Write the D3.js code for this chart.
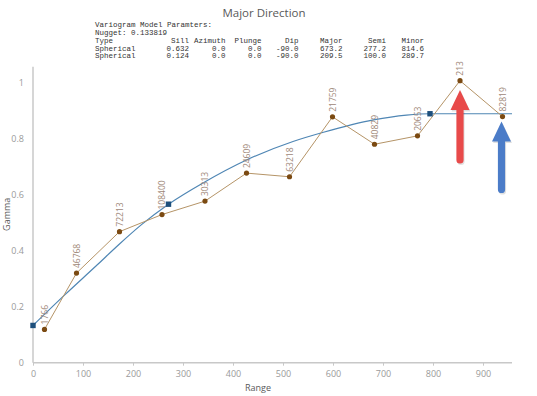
<!DOCTYPE html>
<html><head><meta charset="utf-8">
<script src="https://cdnjs.cloudflare.com/ajax/libs/d3/7.8.5/d3.min.js"></script>
<style>body{margin:0;background:#fff;}svg{display:block;}</style>
</head><body><svg id="c" width="537" height="396"></svg>
<script>
// Experimental variogram points
const lagRange = [23, 87, 173, 258, 344, 427, 513, 599, 683, 769, 854, 939];
const lagGamma = [0.119, 0.320, 0.468, 0.529, 0.577, 0.677, 0.664, 0.878, 0.780, 0.810, 1.007, 0.879];
const lagPairs = ["1766", "46768", "72213", "108400", "30313", "24609", "63218", "21759", "40829", "20653", "213", "82819"];
// Model curve
const modelRange = [0, 64, 127, 173, 217, 271, 340, 427, 520, 581, 681, 747, 794, 958];
const modelGamma = [0.133, 0.243, 0.347, 0.424, 0.493, 0.566, 0.642, 0.724, 0.790, 0.823, 0.867, 0.884, 0.889, 0.889];
const modelMarkRange = [0, 271, 794];
const modelMarkGamma = [0.133, 0.566, 0.889];
const xTicks = [0, 100, 200, 300, 400, 500, 600, 700, 800, 900];
const yTicks = [0, 0.2, 0.4, 0.6, 0.8, 1];
const title = "Major Direction";
const headerLines = ["Variogram Model Paramters:", "Nugget: 0.133819"];
const tableCols = ["Type", "Sill", "Azimuth", "Plunge", "Dip", "Major", "Semi", "Minor"];
const tableRows = [
  ["Spherical", "0.632", "0.0", "0.0", "-90.0", "673.2", "277.2", "814.6"],
  ["Spherical", "0.124", "0.0", "0.0", "-90.0", "209.5", "100.0", "289.7"]
];

const svg = d3.select("#c");
const x = d3.scaleLinear().domain([0, 958]).range([33, 512]);
const y = d3.scaleLinear().domain([0, 1.057]).range([362.7, 66.7]);

// title
svg.append("text").attr("x", 264).attr("y", 17).attr("text-anchor", "middle")
  .attr("font-family", "Open Sans, sans-serif").attr("font-size", 11.5).attr("fill", "#595959").text(title);

// header text block
const mono = "Liberation Mono, monospace";
const rowY = [27, 35, 43, 50.7, 58.4];
headerLines.forEach((t, i) => {
  svg.append("text").attr("x", 95).attr("y", rowY[i]).attr("font-family", mono)
    .attr("font-size", 7.5).attr("fill", "#333").text(t);
});
const colEnd = [null, 189, 225.5, 261.5, 298.5, 342.5, 386, 424];
[tableCols].concat(tableRows).forEach((row, ri) => {
  row.forEach((t, ci) => {
    const el = svg.append("text").attr("y", rowY[ri + 2]).attr("font-family", mono)
      .attr("font-size", 7.5).attr("fill", "#333").text(t);
    if (ci === 0) el.attr("x", 95);
    else el.attr("x", colEnd[ci]).attr("text-anchor", "end");
  });
});

// axes
const gx = svg.append("g").attr("transform", `translate(0,${y(0)})`)
  .call(d3.axisBottom(x).tickValues(xTicks).tickSize(3).tickSizeOuter(0).tickFormat(d3.format("d")));
gx.select(".domain").attr("stroke", "#c8c8c8").attr("stroke-width", 1.5).attr("d", `M${x(0)},0H${x(958)}`);
gx.selectAll(".tick line").attr("stroke", "#c8c8c8");
gx.selectAll(".tick text").attr("fill", "#9a9a9a").attr("font-size", 9).attr("font-family", "Open Sans, sans-serif").attr("dy", "0.9em");

const gy = svg.append("g").attr("transform", `translate(${x(0)},0)`)
  .call(d3.axisLeft(y).tickValues(yTicks).tickSize(0).tickPadding(9).tickFormat(d => d3.format("")(d)));
gy.select(".domain").attr("stroke", "#c8c8c8").attr("stroke-width", 1.5).attr("d", `M0,${y(0)}V${y(1.057)}`);
gy.selectAll(".tick text").attr("fill", "#9a9a9a").attr("font-size", 9).attr("font-family", "Open Sans, sans-serif");

svg.append("text").attr("x", x(450)).attr("y", 391).attr("text-anchor", "middle")
  .attr("font-family", "Open Sans, sans-serif").attr("font-size", 9).attr("fill", "#595959").text("Range");
svg.append("text").attr("transform", `translate(10,${y(0.53)}) rotate(-90)`).attr("text-anchor", "middle")
  .attr("font-family", "Open Sans, sans-serif").attr("font-size", 9).attr("fill", "#595959").text("Gamma");

// model curve
const model = modelRange.map((r, i) => [r, modelGamma[i]]);
svg.append("path").datum(model).attr("fill", "none").attr("stroke", "#4f86b4").attr("stroke-width", 1.2)
  .attr("d", d3.line().x(d => x(d[0])).y(d => y(d[1])).curve(d3.curveMonotoneX));

// experimental line
const pts = lagRange.map((r, i) => ({r, g: lagGamma[i], p: lagPairs[i]}));
svg.append("path").datum(pts).attr("fill", "none").attr("stroke", "#b59467").attr("stroke-width", 1)
  .attr("d", d3.line().x(d => x(d.r)).y(d => y(d.g)));

// labels
svg.selectAll("text.lbl").data(pts).enter().append("text").attr("class", "lbl")
  .attr("transform", d => `translate(${x(d.r) + 3},${y(d.g) - 5}) rotate(-90)`)
  .attr("font-family", "Open Sans, sans-serif").attr("font-size", 8.5).attr("fill", "#9e8777").text(d => d.p);

// points
svg.selectAll("circle.pt").data(pts).enter().append("circle").attr("class", "pt")
  .attr("cx", d => x(d.r)).attr("cy", d => y(d.g)).attr("r", 2.6).attr("fill", "#7b4a12");

// model marks
svg.selectAll("rect.mm").data(modelMarkRange.map((r, i) => [r, modelMarkGamma[i]])).enter().append("rect")
  .attr("x", d => x(d[0]) - 2.7).attr("y", d => y(d[1]) - 2.7).attr("width", 5.4).attr("height", 5.4).attr("fill", "#1d4f7c");

// arrows
function arrow(cx, top, bottom, color) {
  const hw = 9.5, hh = 20, sw = 3.6;
  const p = `M${cx},${top} L${cx + hw},${top + hh} L${cx + sw},${top + hh} L${cx + sw},${bottom - sw}
    A${sw},${sw} 0 0 1 ${cx - sw},${bottom - sw} L${cx - sw},${top + hh} L${cx - hw},${top + hh} Z`;
  svg.append("path").attr("d", p).attr("fill", "#000").attr("opacity", 0.12).attr("transform", "translate(1,1.5)");
  svg.append("path").attr("d", p).attr("fill", color);
}
arrow(460, 90, 163.5, "#e84a4a");
arrow(501.5, 121.5, 193, "#4b7cc8");
</script></body></html>
